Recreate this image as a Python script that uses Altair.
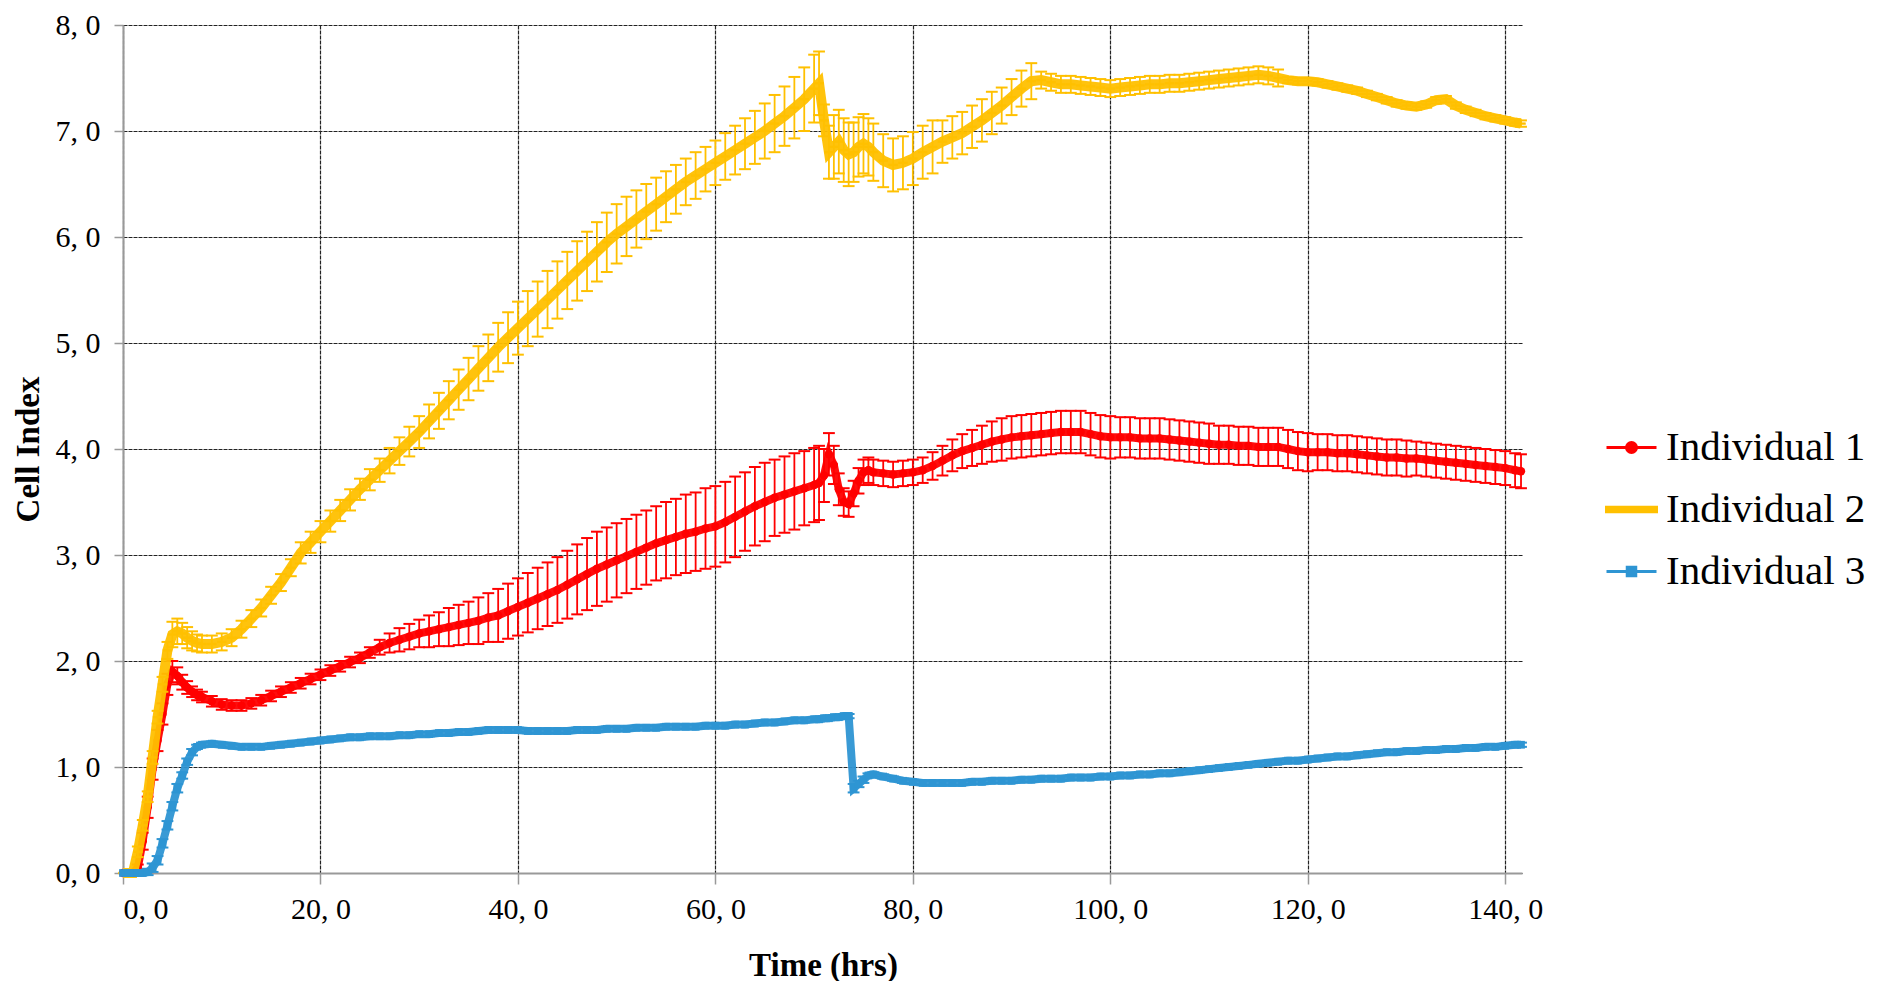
import altair as alt
import pandas as pd

SERIES = ["Individual 1", "Individual 2", "Individual 3"]
COLORS = ["#FF0000", "#FFC000", "#2E95D3"]

# sampling times (hrs)
T_EARLY = [0, 0.5, 1, 1.5, 2, 2.5, 3, 3.5, 4, 4.5, 5, 5.5, 6, 6.5, 7, 7.5, 8]
T_MID = list(range(9, 71))
T_DROP = [70.5, 71, 71.5, 72, 72.5, 73, 73.5, 74, 74.5, 75, 75.5, 76]
T_LATE = list(range(77, 142))
T_END = [141.6]
TIME = T_EARLY + T_MID + T_DROP + T_LATE + T_END

# ---------- Individual 1 (red) ----------
IND1 = (
    [0, 0, 0, 0.05, 0.3, 0.62, 0.98, 1.25, 1.5, 1.78, 1.9, 1.86, 1.8, 1.75, 1.71, 1.68, 1.66]
    + [1.62, 1.59, 1.58, 1.58, 1.6, 1.63, 1.67, 1.71, 1.75, 1.79, 1.83, 1.87, 1.91, 1.95, 1.99, 2.03,
       2.08, 2.13, 2.17, 2.2, 2.23, 2.26, 2.28, 2.3, 2.32, 2.34, 2.36, 2.38, 2.41, 2.43, 2.47, 2.51,
       2.55, 2.59, 2.63, 2.67, 2.72, 2.77, 2.82, 2.87, 2.91, 2.95, 2.99, 3.03, 3.07, 3.11, 3.14, 3.17,
       3.2, 3.22, 3.25, 3.27, 3.31, 3.36, 3.41, 3.46, 3.5, 3.54, 3.57, 3.6, 3.63, 3.66]
    + [3.68, 3.75, 3.95, 3.85, 3.62, 3.5, 3.48, 3.58, 3.7, 3.78, 3.8, 3.78]
    + [3.77, 3.76, 3.77, 3.78, 3.8, 3.84, 3.89, 3.94, 3.98, 4.01, 4.04, 4.07, 4.09, 4.11, 4.12, 4.13,
       4.14, 4.15, 4.16, 4.16, 4.16, 4.14, 4.12, 4.11, 4.11, 4.11, 4.1, 4.1, 4.1, 4.09, 4.08, 4.07,
       4.06, 4.05, 4.04, 4.04, 4.03, 4.03, 4.02, 4.02, 4.02, 4.0, 3.98, 3.97, 3.97, 3.97, 3.96, 3.96,
       3.95, 3.94, 3.93, 3.92, 3.92, 3.91, 3.91, 3.9, 3.89, 3.88, 3.87, 3.86, 3.85, 3.84, 3.83, 3.82, 3.8]
    + [3.79]
)
IND1_ERR = (
    [0, 0, 0, 0.03, 0.08, 0.1, 0.1, 0.1, 0.1, 0.1, 0.1, 0.08, 0.07, 0.06, 0.05, 0.05, 0.05]
    + [0.05] * 17
    + [0.07, 0.09, 0.11, 0.12, 0.13, 0.15, 0.16, 0.18, 0.19, 0.2, 0.22, 0.23, 0.25, 0.26, 0.27,
       0.28, 0.29, 0.3, 0.31, 0.32, 0.33, 0.34, 0.35, 0.35, 0.35, 0.35, 0.35, 0.35, 0.35, 0.36,
       0.36, 0.37, 0.37, 0.38, 0.38, 0.38, 0.38, 0.37, 0.37, 0.37, 0.36, 0.36, 0.36, 0.35, 0.35]
    + [0.35, 0.25, 0.2, 0.18, 0.15, 0.13, 0.12, 0.12, 0.12, 0.12, 0.12, 0.12]
    + [0.12] * 5 + [0.13, 0.14, 0.15, 0.16, 0.17, 0.18, 0.19, 0.2] + [0.2] * 11
    + [0.19] * 10 + [0.18] * 10 + [0.17] * 10 + [0.16] * 11
    + [0.16]
)

# ---------- Individual 2 (yellow) ----------
IND2 = (
    [0, 0, 0, 0.2, 0.45, 0.72, 1.09, 1.47, 1.78, 2.1, 2.25, 2.28, 2.26, 2.22, 2.19, 2.17, 2.16]
    + [2.16, 2.18, 2.22, 2.3, 2.4, 2.5, 2.62, 2.74, 2.88, 3.02, 3.12, 3.22, 3.32, 3.42, 3.52, 3.62,
       3.71, 3.8, 3.89, 3.98, 4.07, 4.16, 4.26, 4.36, 4.46, 4.56, 4.66, 4.76, 4.86, 4.96, 5.05, 5.14,
       5.23, 5.32, 5.41, 5.5, 5.59, 5.68, 5.77, 5.86, 5.95, 6.03, 6.1, 6.17, 6.24, 6.31, 6.38, 6.45,
       6.52, 6.58, 6.64, 6.7, 6.76, 6.82, 6.88, 6.94, 7.0, 7.07, 7.14, 7.22, 7.3, 7.4]
    + [7.45, 7.1, 6.8, 6.85, 6.9, 6.82, 6.78, 6.8, 6.85, 6.88, 6.85, 6.8]
    + [6.72, 6.68, 6.7, 6.74, 6.8, 6.85, 6.9, 6.94, 6.98, 7.04, 7.1, 7.17, 7.24, 7.32, 7.4, 7.47,
       7.48, 7.46, 7.44, 7.44, 7.43, 7.42, 7.41, 7.4, 7.41, 7.42, 7.43, 7.44, 7.44, 7.45, 7.45, 7.46,
       7.47, 7.48, 7.49, 7.5, 7.51, 7.52, 7.53, 7.52, 7.5, 7.48, 7.47, 7.47, 7.46, 7.44, 7.42, 7.4,
       7.38, 7.35, 7.32, 7.29, 7.26, 7.24, 7.23, 7.25, 7.29, 7.3, 7.24, 7.2, 7.17, 7.14, 7.12, 7.1, 7.08]
    + [7.07]
)
IND2_ERR = (
    [0, 0, 0, 0.05, 0.05, 0.05, 0.06, 0.06, 0.07, 0.08, 0.12, 0.12, 0.1, 0.1, 0.09, 0.08, 0.08]
    + [0.08] * 9 + [0.1] * 8
    + [0.11, 0.12, 0.13, 0.14, 0.15, 0.16, 0.17, 0.18, 0.19, 0.2, 0.21, 0.22, 0.23, 0.24, 0.25]
    + [0.26, 0.26, 0.27, 0.27, 0.27, 0.28, 0.28, 0.28, 0.28, 0.28]
    + [0.28, 0.27, 0.26, 0.25, 0.24, 0.23, 0.22, 0.22, 0.21, 0.21]
    + [0.22, 0.23, 0.24, 0.25, 0.26, 0.27, 0.28, 0.29, 0.3, 0.32]
    + [0.3, 0.15, 0.25, 0.3, 0.3, 0.3, 0.3, 0.28, 0.28, 0.28, 0.27, 0.27]
    + [0.25] * 6 + [0.2] * 6 + [0.17] * 4 + [0.08] * 25 + [0.03] * 24
    + [0.03]
)

# ---------- Individual 3 (blue) ----------
IND3 = (
    [0, 0, 0, 0, 0, 0.01, 0.05, 0.12, 0.28, 0.45, 0.63, 0.8, 0.92, 1.05, 1.14, 1.19, 1.21]
    + [1.22, 1.21, 1.2, 1.19, 1.19, 1.19, 1.2, 1.21, 1.22, 1.23, 1.24, 1.25, 1.26, 1.27, 1.28, 1.28,
       1.29, 1.29, 1.29, 1.3, 1.3, 1.31, 1.31, 1.32, 1.32, 1.33, 1.33, 1.34, 1.35, 1.35, 1.35, 1.35,
       1.34, 1.34, 1.34, 1.34, 1.34, 1.35, 1.35, 1.35, 1.36, 1.36, 1.36, 1.37, 1.37, 1.37, 1.38, 1.38,
       1.38, 1.38, 1.39, 1.39, 1.39, 1.4, 1.4, 1.41, 1.42, 1.42, 1.43, 1.44, 1.44, 1.45]
    + [1.45, 1.46, 1.46, 1.47, 1.47, 1.48, 1.48, 0.8, 0.84, 0.88, 0.92, 0.93]
    + [0.91, 0.89, 0.87, 0.86, 0.85, 0.85, 0.85, 0.85, 0.85, 0.86, 0.86, 0.87, 0.87, 0.87, 0.88, 0.88,
       0.89, 0.89, 0.89, 0.9, 0.9, 0.9, 0.91, 0.91, 0.92, 0.92, 0.93, 0.93, 0.94, 0.94, 0.95, 0.96,
       0.97, 0.98, 0.99, 1.0, 1.01, 1.02, 1.03, 1.04, 1.05, 1.06, 1.06, 1.07, 1.08, 1.09, 1.1, 1.1,
       1.11, 1.12, 1.13, 1.14, 1.14, 1.15, 1.15, 1.16, 1.16, 1.17, 1.17, 1.18, 1.18, 1.19, 1.19, 1.2, 1.21]
    + [1.21]
)
IND3_ERR = (
    [0, 0, 0, 0, 0.02, 0.03, 0.04, 0.04, 0.04, 0.04, 0.04, 0.04, 0.03, 0.03, 0.03, 0.02, 0.02]
    + [0.02] * 62
    + [0.02, 0.02, 0.02, 0.02, 0.02, 0.02, 0.02, 0.04, 0.03, 0.03, 0.02, 0.02]
    + [0.02] * 65
    + [0.02]
)

VALUES = [IND1, IND2, IND3]
ERRORS = [IND1_ERR, IND2_ERR, IND3_ERR]
for arr in VALUES + ERRORS:
    assert len(arr) == len(TIME), len(arr)

rows = []
for name, vals, errs in zip(SERIES, VALUES, ERRORS):
    for t, v, e in zip(TIME, vals, errs):
        rows.append({"series": name, "t": t, "v": v, "e": e, "lo": v - e, "hi": v + e})
df = pd.DataFrame(rows)

LABEL_EXPR = "replace(format(datum.value, '.1f'), '.', ', ')"
FONT = "Liberation Serif"

x_enc = alt.X(
    "t:Q",
    title="Time (hrs)",
    scale=alt.Scale(domain=[0, 141.7], nice=False, zero=False),
    axis=alt.Axis(
        values=[0, 20, 40, 60, 80, 100, 120, 140],
        labelExpr=LABEL_EXPR,
        tickSize=11,
        labelPadding=10,
        titleX=700,
        titleY=92,
        titleBaseline="middle",
        titleAlign="center",
    ),
)


def y_enc(field):
    return alt.Y(
        f"{field}:Q",
        title="Cell Index",
        scale=alt.Scale(domain=[0, 8], nice=False),
        axis=alt.Axis(
            values=[0, 1, 2, 3, 4, 5, 6, 7, 8],
            labelExpr=LABEL_EXPR,
            tickSize=9,
            labelPadding=14,
            titleX=-95,
            titleY=424,
            titleBaseline="middle",
            titleAlign="center",
        ),
    )


LINE_W = [8, 10, 8]
MARKERS = [
    dict(shape="circle", size=70, filled=True),
    dict(shape="M-1,-0.25L1,-0.25L1,0.25L-1,0.25Z", size=90, filled=True),
    dict(shape="square", size=60, filled=True),
]
CAP = "M-1,0L1,0"

layers = []
for i, name in enumerate(SERIES):
    c = COLORS[i]
    base = alt.Chart(df).transform_filter(alt.datum.series == name)
    bars = base.transform_filter("datum.e > 0")
    layers.append(
        bars.mark_rule(color=c, strokeWidth=1.8).encode(x=x_enc, y=y_enc("lo"), y2="hi:Q")
    )
    layers.append(
        bars.mark_point(shape=CAP, size=140, filled=False, color=c, strokeWidth=2, opacity=1)
        .encode(x=x_enc, y=y_enc("hi"))
    )
    layers.append(
        bars.mark_point(shape=CAP, size=140, filled=False, color=c, strokeWidth=2, opacity=1)
        .encode(x=x_enc, y=y_enc("lo"))
    )
    layers.append(
        base.mark_line(color=c, strokeWidth=LINE_W[i], opacity=0.95).encode(x=x_enc, y=y_enc("v"))
    )
    layers.append(
        base.mark_point(color=c, opacity=1, **MARKERS[i]).encode(x=x_enc, y=y_enc("v"))
    )

LEGEND_PATHS = [
    "M-1,0L1,0M-0.2,0A0.2,0.2,0,1,1,0.2,0A0.2,0.2,0,1,1,-0.2,0Z",
    "M-1,-0.09L1,-0.09L1,0.09L-1,0.09Z",
    "M-1,0L1,0M-0.17,-0.17L0.17,-0.17L0.17,0.17L-0.17,0.17Z",
]
legend_layer = (
    alt.Chart(df)
    .transform_filter("datum.t < -1")
    .mark_point(filled=True, opacity=1, strokeWidth=3)
    .encode(
        color=alt.Color("series:N", title=None, scale=alt.Scale(domain=SERIES, range=COLORS)),
        stroke=alt.Stroke("series:N", title=None, scale=alt.Scale(domain=SERIES, range=COLORS)),
        shape=alt.Shape("series:N", title=None, scale=alt.Scale(domain=SERIES, range=LEGEND_PATHS)),
    )
)
layers.append(legend_layer)

chart = (
    alt.layer(*layers)
    .properties(
        width=1399,
        height=848,
        padding={"left": 115, "top": 17, "right": 365, "bottom": 108},
        autosize=alt.AutoSizeParams(type="none"),
        background="white",
    )
    .configure_view(strokeWidth=0)
    .configure_axis(
        labelFont=FONT,
        labelFontSize=30,
        labelColor="#000000",
        titleFont=FONT,
        titleFontSize=33,
        titleFontWeight="bold",
        titleColor="#000000",
        gridColor="#222222",
        gridDash=[4, 1],
        gridWidth=1.2,
        gridOpacity=1,
        domainColor="#999999",
        domainWidth=2,
        tickColor="#999999",
        tickWidth=1.5,
    )
    .configure_legend(
        orient="none",
        legendX=1482,
        legendY=396,
        symbolSize=2500,
        symbolStrokeWidth=3,
        labelFont=FONT,
        labelFontSize=41,
        labelColor="#000000",
        labelOffset=8,
        rowPadding=15,
        labelLimit=400,
    )
)

chart.save("out.html", embed_options={"renderer": "svg", "actions": False})
